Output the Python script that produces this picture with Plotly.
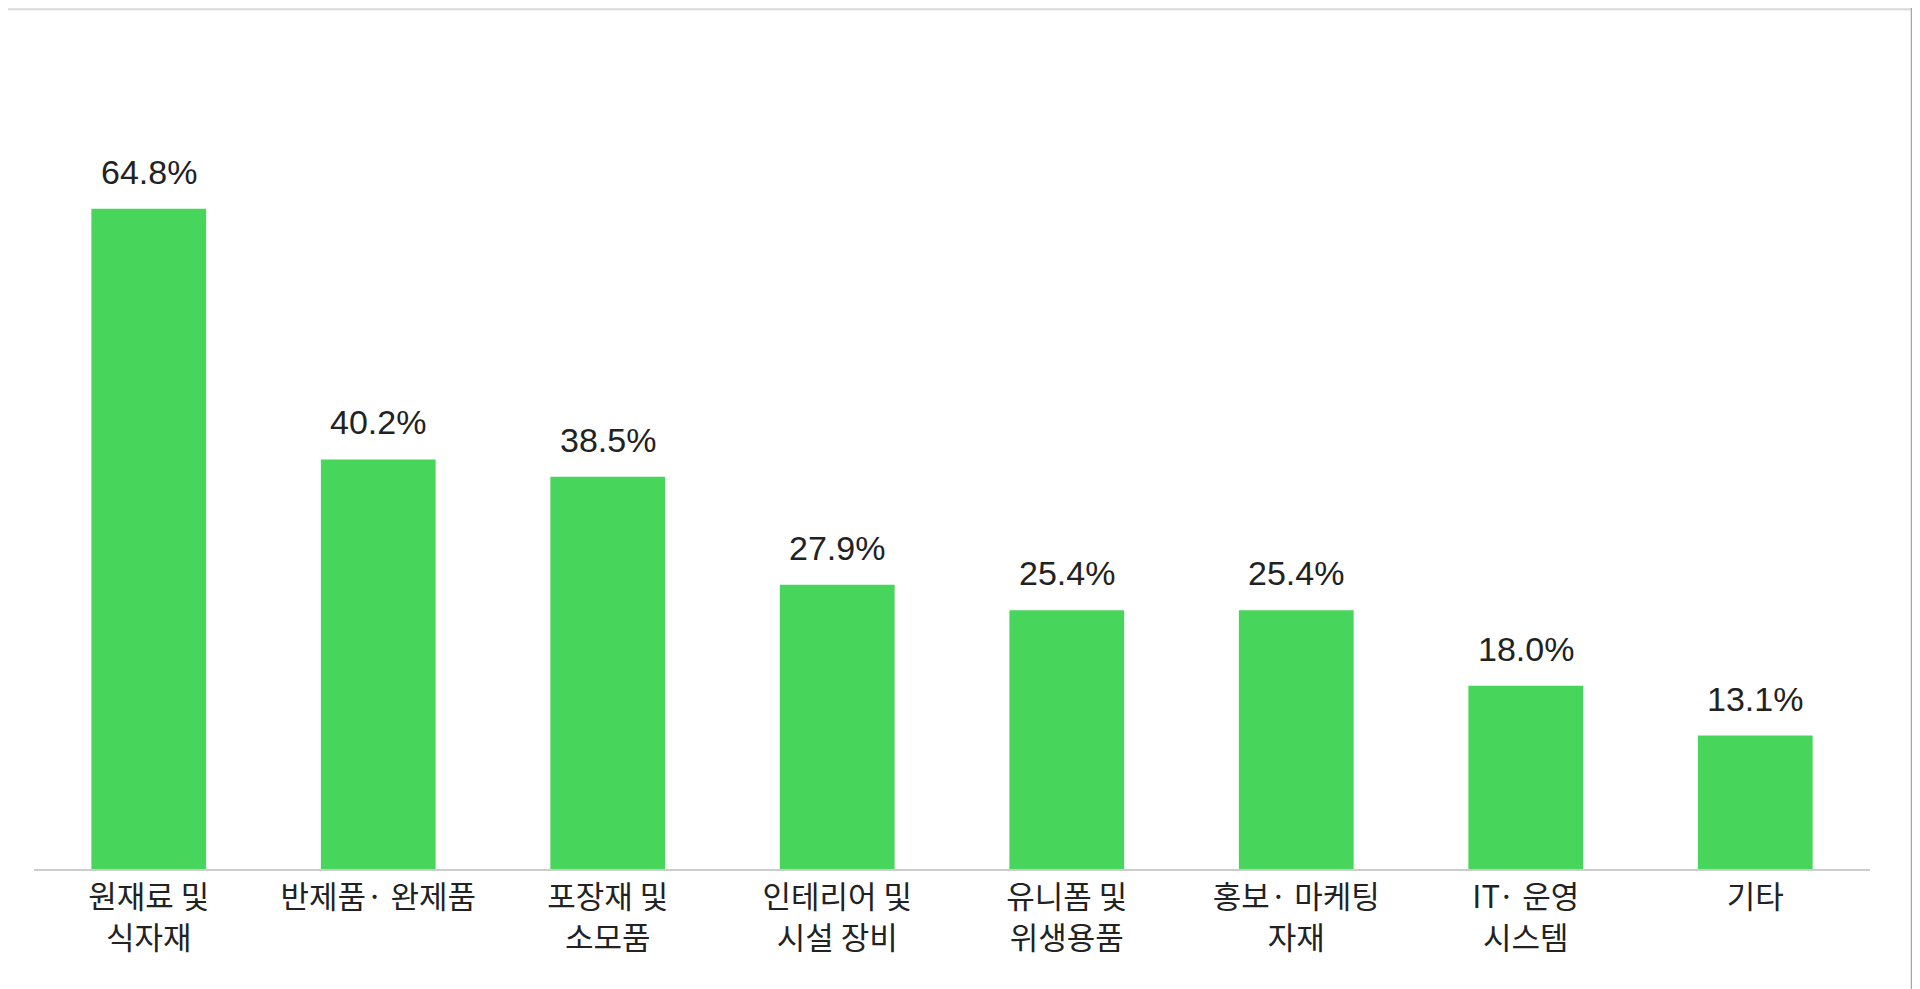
import plotly.graph_objects as go

# categories and shares (%)
categories = [
    "원재료 및<br>식자재",
    "반제품· 완제품",
    "포장재 및<br>소모품",
    "인테리어 및<br>시설 장비",
    "유니폼 및<br>위생용품",
    "홍보· 마케팅<br>자재",
    "IT· 운영<br>시스템",
    "기타",
]
values = [64.8, 40.2, 38.5, 27.9, 25.4, 25.4, 18.0, 13.1]
value_labels = ["64.8%", "40.2%", "38.5%", "27.9%", "25.4%", "25.4%", "18.0%", "13.1%"]

bar_color = "#48D55B"

fig = go.Figure()
fig.add_trace(go.Bar(
    x=categories, y=values,
    marker=dict(color=bar_color, line=dict(width=0)),
    width=0.5,
    hoverinfo="skip",
))

# value labels above the bars
for cat, val, lab in zip(categories, values, value_labels):
    fig.add_annotation(
        x=cat, y=val, text=lab, showarrow=False,
        yanchor="bottom", yshift=16,
        font=dict(family="Liberation Sans, Arial, sans-serif", size=34, color="#222222"),
    )

# thin frame lines at the top and right edge
fig.add_shape(type="line", xref="paper", yref="paper",
              x0=-0.02, x1=1.03, y0=1.055, y1=1.055,
              line=dict(color="#d8d8d8", width=2))
fig.add_shape(type="line", xref="paper", yref="paper",
              x0=1.023, x1=1.023, y0=-0.2, y1=1.06,
              line=dict(color="#a8a8a8", width=3))

fig.update_layout(
    width=1912, height=981,
    margin=dict(l=26, r=50, t=46, b=120),
    paper_bgcolor="white", plot_bgcolor="white",
    showlegend=False,
    bargap=0.5,
    font=dict(family="Noto Sans CJK KR, sans-serif", size=31, color="#222222"),
)
fig.update_xaxes(
    showline=True, linecolor="#cccccc", linewidth=2,
    showgrid=False, ticks="", zeroline=False,
    tickfont=dict(family="Noto Sans CJK KR, sans-serif", size=31, color="#222222"),
)
fig.update_yaxes(
    range=[0, 80], visible=False, showgrid=False, zeroline=False,
)

fig.write_html("out.html")
